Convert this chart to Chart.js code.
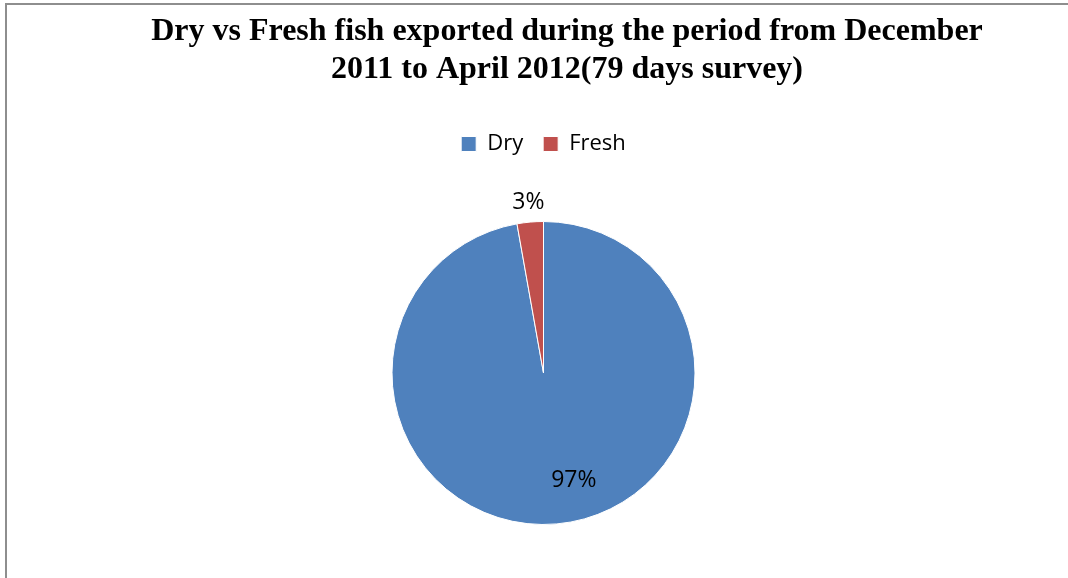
<!DOCTYPE html>
<html>
<head>
<meta charset="utf-8">
<script src="https://cdn.jsdelivr.net/npm/chart.js@4.4.1/dist/chart.umd.min.js"></script>
<style>
  html, body { margin: 0; padding: 0; background: #fff; }
  body { width: 1068px; height: 578px; position: relative; overflow: hidden; }
  #frame { position: absolute; left: 5px; top: 3px; width: 1080px; height: 600px;
           border-left: 2px solid #8e8e8e; border-top: 2px solid #8e8e8e; }
  #fishChart { position: absolute; left: 0; top: 0; }
</style>
</head>
<body>
<div id="frame"></div>
<canvas id="fishChart" width="1068" height="586"></canvas>
<script>
const categories = ['Dry', 'Fresh'];
const shares = [97.2, 2.8];
const pctLabels = ['97%', '3%'];
const titleLines = ['Dry vs Fresh fish exported during the period from December', '2011 to April 2012(79 days survey)'];
const colors = ['#4f81bd', '#c0504d'];

const uiFont = '"Open Sans", "Noto Sans", sans-serif';

// title drawn by hand, it sits a bit right of the pie centre in the original
const titlePlugin = {
    id: 'bigTitle',
    afterDraw(chart) {
        const c = chart.ctx;
        c.save();
        c.font = 'bold 32px "Liberation Serif", "Times New Roman", serif';
        c.fillStyle = '#000';
        c.textAlign = 'center';
        c.textBaseline = 'middle';
        titleLines.forEach((t, i) => c.fillText(t, 567, 32 + i * 38));
        c.restore();
    }
};

// percentage labels: small slice outside, big slice inside
const pctPlugin = {
    id: 'pctLabels',
    afterDatasetsDraw(chart) {
        const c = chart.ctx;
        const arcs = chart.getDatasetMeta(0).data;
        c.save();
        c.font = '23px ' + uiFont;
        c.fillStyle = '#000';
        c.textAlign = 'center';
        c.textBaseline = 'middle';
        arcs.forEach((arc, i) => {
            const p = arc.getProps(['x', 'y', 'startAngle', 'endAngle', 'outerRadius'], true);
            const mid = (p.startAngle + p.endAngle) / 2;
            if (shares[i] < 10) {
                const d = p.outerRadius + 20;
                c.fillText(pctLabels[i], p.x + Math.cos(mid) * d, p.y + Math.sin(mid) * d);
            } else {
                c.fillText(pctLabels[i], p.x + p.outerRadius * 0.2, p.y + p.outerRadius * 0.71);
            }
        });
        c.restore();
    }
};

new Chart(document.getElementById('fishChart'), {
    type: 'pie',
    data: {
        labels: categories,
        datasets: [{
            data: shares,
            backgroundColor: colors,
            borderColor: '#ffffff',
            borderWidth: 1,
            radius: 151.5
        }]
    },
    options: {
        responsive: false,
        animation: false,
        layout: { padding: { top: 113, bottom: 5, left: 19, right: 0 } },
        plugins: {
            title: { display: false },
            tooltip: { enabled: false },
            legend: {
                position: 'top',
                labels: {
                    font: { family: uiFont, size: 22 },
                    color: '#000',
                    boxWidth: 15,
                    boxHeight: 15,
                    padding: 20
                }
            }
        }
    },
    plugins: [titlePlugin, pctPlugin]
});
</script>
</body>
</html>
